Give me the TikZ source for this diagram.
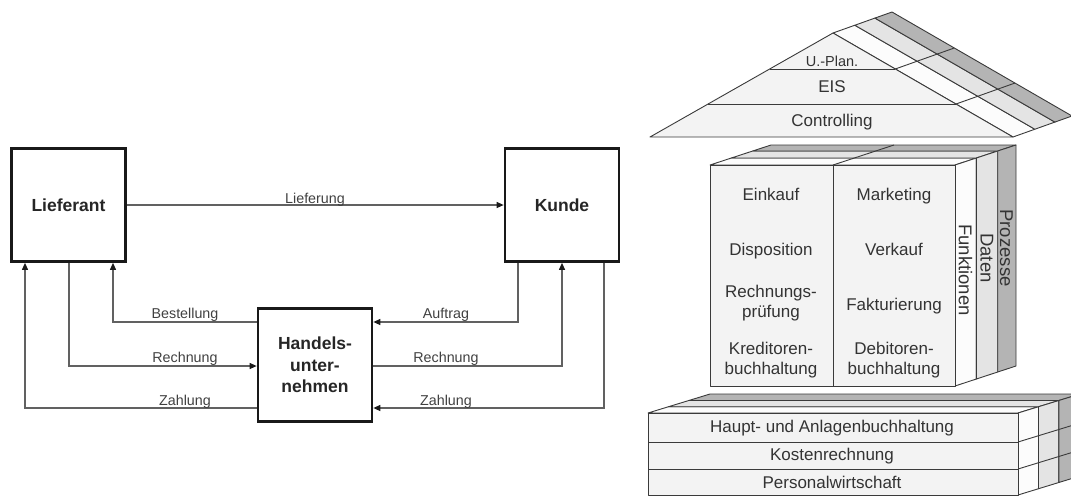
\documentclass[tikz,border=0pt]{standalone}
\usepackage{fontspec}
\setmainfont{Liberation Sans}
\usetikzlibrary{arrows.meta,calc}
\definecolor{faceF}{HTML}{FCFCFC}
\definecolor{faceD}{HTML}{E4E4E4}
\definecolor{faceP}{HTML}{B4B4B4}
\definecolor{frontc}{HTML}{F3F3F3}
\definecolor{linec}{HTML}{3A3A3A}
\begin{document}
\begin{tikzpicture}[x=1pt,y=-1pt,
  box/.style={draw=black!90, line width=2.7pt, fill=white, minimum width=114pt,
    minimum height=113pt, inner sep=0pt, align=center,
    font=\bfseries\fontsize{17.5}{21.5}\selectfont, text=black!85},
  conn/.style={draw=black!62, line width=1.1pt},
  tip/.style={-{Triangle[length=7pt,width=6pt,color=black!90]}},
  lbl/.style={font=\fontsize{14.3}{17}\selectfont, text=black!75, inner sep=0pt, anchor=base},
  hl/.style={font=\fontsize{17}{20}\selectfont, text=black!80, inner sep=0pt, align=center},
  vl/.style={font=\fontsize{18.5}{20}\selectfont, text=black!80, inner sep=0pt, rotate=-90},
  edge/.style={draw=linec, line width=0.9pt, line join=round},
]
\useasboundingbox (0,0) rectangle (1071,496);
\clip (0,0) rectangle (1071,496);

% ---------- flow between supplier, retailer and customer ----------
\node[box] (lief)  at (68.5,205) {Lieferant};
\node[box] (kunde) at (562,205)  {Kunde};
\node[box] (hand)  at (315,365)  {Handels-\\unter-\\nehmen};

\draw[conn,tip] (lief.east) -- (kunde.west);
\draw[conn,tip] (hand.west |- 0,322) -| (lief.south -| 113,0);
\draw[conn,tip] (lief.south -| 69,0) |- (hand.west |- 0,366);
\draw[conn,tip] (hand.west |- 0,408) -| (lief.south -| 25,0);
\draw[conn,tip] (kunde.south -| 518,0) |- (hand.east |- 0,322);
\draw[conn,tip] (hand.east |- 0,366) -| (kunde.south -| 562,0);
\draw[conn,tip] (kunde.south -| 604,0) |- (hand.east |- 0,408);

\node[lbl] (lLief)  at (315,203) {Lieferung};
\node[lbl] (lBest)  at (185,318) {Bestellung};
\node[lbl] (lRechL) at (185,362) {Rechnung};
\node[lbl] (lZahlL) at (185,405) {Zahlung};
\node[lbl] (lAuft)  at (446,318) {Auftrag};
\node[lbl] (lRechR) at (446,362) {Rechnung};
\node[lbl] (lZahlR) at (446,405) {Zahlung};

% ---------- house: roof ----------
\coordinate (rA) at (833,33);
\coordinate (rL) at (650,137);
\coordinate (rR) at (1013,137);
\coordinate (dR) at (59,-21);
\foreach \a/\b/\c in {0/0.37/faceF,0.37/0.71/faceD,0.71/1/faceP}{
  \filldraw[edge,fill=\c] ($(rA)+\a*(dR)$) -- ($(rA)+\b*(dR)$)
    -- ($(rR)+\b*(dR)$) -- ($(rR)+\a*(dR)$) -- cycle;
}
\foreach \t in {0.346,0.683}{
  \draw[edge] ($(rA)!\t!(rR)$) -- ++(59,-21);
}
\filldraw[edge,fill=frontc] (rL) -- (rA) -- (rR) -- cycle;
\foreach \t in {0.346,0.683}{
  \draw[edge] ($(rA)!\t!(rL)$) -- ($(rA)!\t!(rR)$);
}
\node[hl,font=\fontsize{14.5}{17}\selectfont,anchor=base] (tPlan) at (832,66) {U.-Plan.};
\node[hl,anchor=base] (tEIS)  at (832,92)  {EIS};
\node[hl,anchor=base] (tCtrl) at (832,126) {Controlling};

% ---------- house: function block ----------
\coordinate (cTL) at (710,165);
\coordinate (cTR) at (955,165);
\coordinate (cBR) at (955,386);
\coordinate (dC) at (61,-20);
\foreach \a/\b/\c in {0/0.35/faceF,0.35/0.7/faceD,0.7/1/faceP}{
  \filldraw[edge,fill=\c] ($(cTL)+\a*(dC)$) -- ($(cTR)+\a*(dC)$)
    -- ($(cTR)+\b*(dC)$) -- ($(cTL)+\b*(dC)$) -- cycle;
  \filldraw[edge,fill=\c] ($(cTR)+\a*(dC)$) -- ($(cBR)+\a*(dC)$)
    -- ($(cBR)+\b*(dC)$) -- ($(cTR)+\b*(dC)$) -- cycle;
}
\filldraw[edge,fill=frontc] (cTL) rectangle (cBR);
\draw[edge] (833,165) -- (833,386);
\draw[edge] (833,165) -- ++(61,-20);

\node[hl,anchor=base] (tEink) at (771,200.5) {Einkauf};
\node[hl,anchor=base] (tDisp) at (771,255.5) {Disposition};
\node[hl] (tRech) at (771,303) {Rechnungs-\\prüfung};
\node[hl] (tKred) at (771,360) {Kreditoren-\\buchhaltung};
\node[hl,anchor=base] (tMark) at (894,200.5) {Marketing};
\node[hl,anchor=base] (tVerk) at (894,255.5) {Verkauf};
\node[hl,anchor=base] (tFakt) at (894,310)   {Fakturierung};
\node[hl] (tDebi) at (894,360) {Debitoren-\\buchhaltung};

\node[vl] (tFunk) at (965.5,270) {Funktionen};
\node[vl] (tDat)  at (987,258)   {Daten};
\node[vl] (tProz) at (1006.5,248) {Prozesse};

% ---------- house: base ----------
\coordinate (bTL) at (648,413);
\coordinate (bTR) at (1018,413);
\coordinate (bBR) at (1018,495);
\coordinate (dB) at (62,-19);
\foreach \a/\b/\c in {0/0.33/faceF,0.33/0.66/faceD,0.66/1/faceP}{
  \filldraw[edge,fill=\c] ($(bTL)+\a*(dB)$) -- ($(bTR)+\a*(dB)$)
    -- ($(bTR)+\b*(dB)$) -- ($(bTL)+\b*(dB)$) -- cycle;
  \filldraw[edge,fill=\c] ($(bTR)+\a*(dB)$) -- ($(bBR)+\a*(dB)$)
    -- ($(bBR)+\b*(dB)$) -- ($(bTR)+\b*(dB)$) -- cycle;
}
\foreach \y in {442,469}{
  \draw[edge] (1018,\y) -- ++(62,-19);
}
\filldraw[edge,fill=frontc] (bTL) rectangle (bBR);
\foreach \y in {442,469}{
  \draw[edge] (648,\y) -- (1018,\y);
}
\node[hl,anchor=base] (tHaupt) at (832,432.5) {Haupt- und Anlagenbuchhaltung};
\node[hl,anchor=base] (tKost)  at (832,460)   {Kostenrechnung};
\node[hl,anchor=base] (tPers)  at (832,488)   {Personalwirtschaft};
\end{tikzpicture}
\end{document}
